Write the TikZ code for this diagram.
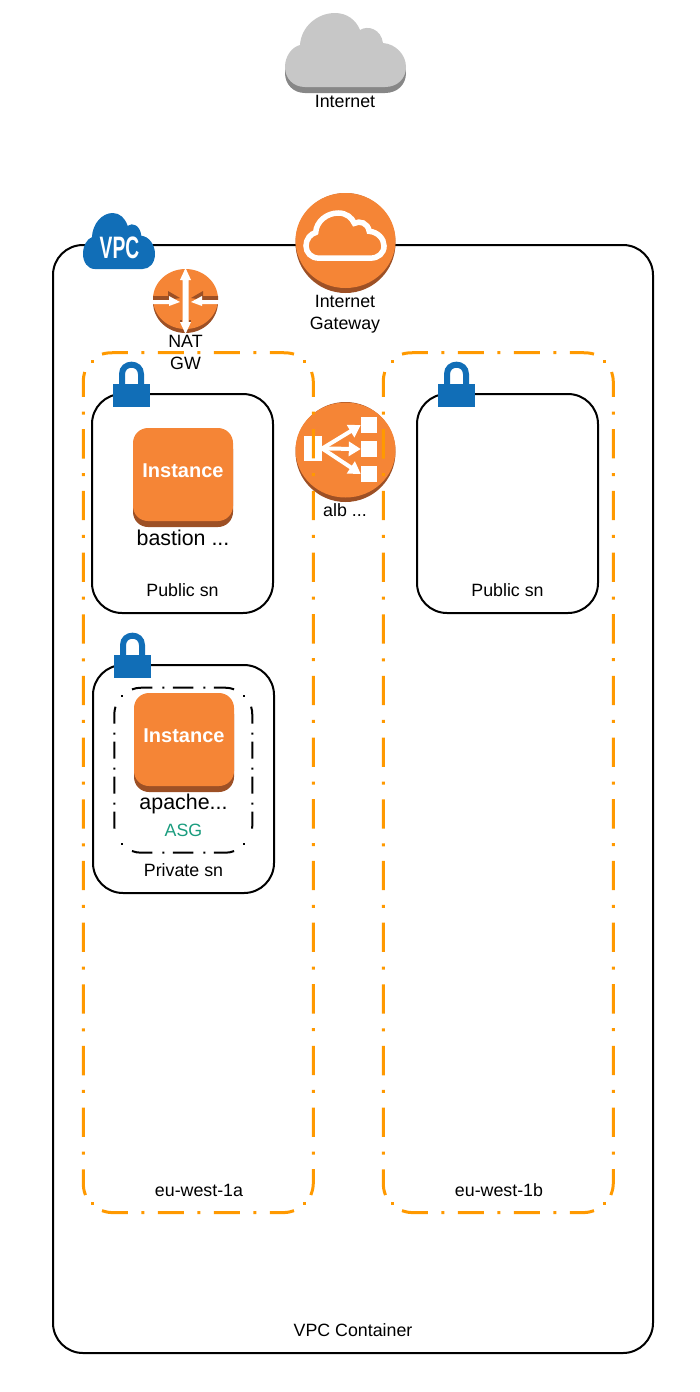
\documentclass[tikz,border=0pt]{standalone}
\usepackage{fontspec}
\setmainfont{Liberation Sans}
\usepackage{tikz}
\usetikzlibrary{arrows.meta}
\definecolor{awsOrange}{HTML}{F58536}
\definecolor{awsBrown}{HTML}{9D5025}
\definecolor{awsBlue}{HTML}{116EB7}
\definecolor{azOrange}{HTML}{FF9900}
\definecolor{asgGreen}{HTML}{1A9C7E}
\tikzstyle{container} = [rectangle, draw, line width=2pt, inner sep=0pt, rounded corners=30pt]
\tikzstyle{azhoriz} = [draw=azOrange, line width=3pt, dash pattern=on 26pt off 13.5pt on 3pt off 13.5pt]
\tikzstyle{azvert} = [draw=azOrange, line width=3pt, dash pattern=on 29.3pt off 14.7pt on 3pt off 14.67pt, dash phase=4.3pt]
\tikzstyle{asghoriz} = [draw, line width=2pt, dash pattern=on 20.5pt off 10pt on 2pt off 8.5pt]
\tikzstyle{asgvert} = [draw, line width=2pt, dash pattern=on 17pt off 9pt on 2pt off 7pt]
\tikzstyle{instancetop} = [rectangle, fill=awsOrange, text=white, inner sep=0pt, rounded corners=15pt, minimum width=100pt, minimum height=93pt, font=\fontsize{20}{20}\selectfont\bfseries]
\tikzstyle{instancebase} = [rectangle, fill=awsBrown, inner sep=0pt, rounded corners=15pt, minimum width=100pt, minimum height=93pt]
\tikzstyle{label} = [inner sep=0pt, font=\fontsize{17.8}{22}\selectfont, align=center]
\tikzstyle{biglabel} = [inner sep=0pt, font=\fontsize{21.4}{22}\selectfont]
\tikzstyle{whitebox} = [rectangle, fill=white, inner sep=0pt, minimum width=16pt, minimum height=16pt]
\tikzstyle{albarrow} = [draw=white, line width=4pt, -{Triangle[length=12pt,width=14pt]}]
\tikzset{
    cloudshape/.pic={
        \path[pic actions] (20,74) .. controls (8,74) and (0,65) .. (0,54)
            .. controls (0,43) and (7,34) .. (15,32)
            .. controls (16,14) and (32,0) .. (50,0)
            .. controls (62,0) and (71,7) .. (75,17)
            .. controls (83,12) and (96,16) .. (98,30)
            .. controls (111,31) and (121,42) .. (121,54)
            .. controls (121,66) and (112,74) .. (100,74) -- cycle;
    },
    lockshape/.pic={
        \fill[awsBlue] (0,0) rectangle (37,23);
        \draw[awsBlue, line width=6pt] (9,1) -- (9,-9.8) .. controls (9,-22.5) and (28,-22.5) .. (28,-9.8) -- (28,1);
    },
    zoneframe/.pic={
        \draw[azhoriz] (19,2.1) .. controls (23,1) and (26.5,.7) .. (30,.7) -- (200,.7) .. controls (203.5,.7) and (207,1) .. (211,2.1);
        \draw[azhoriz] (19,858.6) .. controls (23,860) and (26.5,860.7) .. (30,860.7) -- (200,860.7) .. controls (203.5,860.7) and (207,860) .. (211,858.6);
        \draw[azvert] (1.7,20) .. controls (.8,23) and (.3,26) .. (.3,30) -- (.3,831) .. controls (.3,835) and (.8,839) .. (2.5,843);
        \draw[azvert] (228.6,20) .. controls (229.5,23) and (230.3,26) .. (230.3,30) -- (230.3,831) .. controls (230.3,835) and (229.5,839) .. (227.8,843);
        \fill[azOrange] (7.5,7.5) rectangle (10.5,10.5);
        \fill[azOrange] (219.5,7.5) rectangle (222.5,10.5);
        \fill[azOrange] (7.5,850) rectangle (10.5,853);
        \fill[azOrange] (219.5,850) rectangle (222.5,853);
    },
    asgframe/.pic={
        \draw[asghoriz] (17.7,1.7) .. controls (20.5,.5) and (24,0) .. (27,0) -- (111,0) .. controls (114,0) and (117,.5) .. (120,1.7);
        \draw[asghoriz] (17.7,163.3) .. controls (20.5,164.5) and (24,165) .. (27,165) -- (111,165) .. controls (114,165) and (117,164.5) .. (120,163.3);
        \draw[asgvert] (1.2,19) .. controls (.4,21.5) and (0,24) .. (0,27) -- (0,138) .. controls (0,140.5) and (.4,143) .. (.9,145);
        \draw[asgvert] (136.8,19) .. controls (137.6,21.5) and (138,24) .. (138,27) -- (138,138) .. controls (138,140.5) and (137.6,143) .. (137.1,145);
        \fill (7,7) rectangle (9,9);
        \fill (129,7) rectangle (131,9);
        \fill (7,155) rectangle (9,157);
        \fill (129,155) rectangle (131,157);
    }
}
\begin{document}
\begin{tikzpicture}[x=1pt, y=-1pt]
        \useasboundingbox (0, 0) rectangle (699, 1392);

        % internet cloud
        \pic[fill=black!47] at (285, 19) {cloudshape};
        \pic[fill=black!22] at (285, 13) {cloudshape};
        \node[label] at (345, 101) (Internet) {Internet};

        % vpc
        \node[container, minimum width=600pt, minimum height=1108pt] at (353, 799) (VpcContainer) {};
        \node[label] at (353, 1330) (VpcLabel) {VPC Container};
        \pic[fill=awsBlue, xscale=0.595, yscale=0.757] at (83, 213) {cloudshape};
        \node[inner sep=0pt, text=white, xscale=0.62, transform shape, font=\fontsize{31}{31}\selectfont\bfseries] at (119.5, 248) (VpcText) {VPC};

        % gateway
        \fill[awsBrown] (345.5, 243) circle (50pt);
        \fill[awsOrange] (345.5, 240.5) ellipse (50pt and 47.5pt);
        \pic[draw=white, line width=5.5pt, xscale=0.645, yscale=0.61] at (306, 213) {cloudshape};
        \node[label] at (345, 314.5) (GatewayLabel) {Internet\\Gateway};

        % nat
        \fill[awsBrown] (185.5, 302) ellipse (32.5pt and 31pt);
        \fill[awsOrange] (185.5, 299) ellipse (32.5pt and 30pt);
        \fill[awsBrown] (153, 296) -- (168, 296) -- (168, 291) -- (180, 298) -- (168, 300) -- (153, 300) -- cycle;
        \fill[awsBrown] (218, 296) -- (203, 296) -- (203, 291) -- (191, 298) -- (203, 300) -- (218, 300) -- cycle;
        \fill[white] (153, 300) -- (169, 300) -- (169, 296) -- (180, 302) -- (169, 306) -- (169, 304) -- (153, 304) -- cycle;
        \fill[white] (218, 300) -- (202, 300) -- (202, 296) -- (191, 302) -- (202, 306) -- (202, 304) -- (218, 304) -- cycle;
        \fill[awsBrown] (180, 320) rectangle (182, 322);
        \fill[awsBrown] (189, 320) rectangle (191, 322);
        \fill[white] (185.5, 268) -- (191, 280) -- (188.5, 280) -- (188.5, 322) -- (191, 322) -- (185.5, 334) -- (180, 322) -- (182.5, 322) -- (182.5, 280) -- (180, 280) -- cycle;
        \node[label] at (185.5, 352) (NatLabel) {NAT\\GW};

        % alb sits under the zone lines
        \fill[awsBrown] (345.5, 452) circle (50pt);
        \fill[awsOrange] (345.5, 450) ellipse (50pt and 47.5pt);
        \node[whitebox, minimum width=18pt, minimum height=25pt] at (313, 448.5) (AlbSource) {};
        \node[whitebox] at (369, 425) (AlbTargetA) {};
        \node[whitebox] at (369, 449) (AlbTargetB) {};
        \node[whitebox] at (369, 474) (AlbTargetC) {};
        \draw[albarrow] (AlbSource.east) -- (AlbTargetA.west);
        \draw[albarrow] (AlbSource.east) -- (AlbTargetB.west);
        \draw[albarrow] (AlbSource.east) -- (AlbTargetC.west);
        \node[label] at (345, 510) (AlbLabel) {alb ...};

        % zones
        \pic at (83, 352) {zoneframe};
        \pic at (383, 352) {zoneframe};
        \node[label] at (199, 1190) (ZoneALabel) {eu-west-1a};
        \node[label] at (499, 1190) (ZoneBLabel) {eu-west-1b};

        % public subnets
        \node[container, minimum width=181pt, minimum height=219pt] at (182.5, 503.5) (PublicA) {};
        \node[container, minimum width=181pt, minimum height=219pt] at (507.5, 503.5) (PublicB) {};
        \node[label] at (182.5, 590) (PublicALabel) {Public sn};
        \node[label] at (507.5, 590) (PublicBLabel) {Public sn};
        \pic at (113, 384) {lockshape};
        \pic at (438, 384) {lockshape};

        % bastion
        \node[instancebase] at (183, 480.5) (BastionBase) {};
        \node[instancetop] at (183, 474.5) (Bastion) {};
        \node[inner sep=0pt, text=white, font=\fontsize{20}{20}\selectfont\bfseries] at (183, 470.5) (BastionText) {Instance};
        \node[biglabel] at (183, 538) (BastionLabel) {bastion ...};

        % private subnet
        \node[container, minimum width=181pt, minimum height=228pt] at (183.5, 779) (PrivateA) {};
        \node[label] at (183.5, 870) (PrivateALabel) {Private sn};
        \pic at (114, 655) {lockshape};

        % asg and apache
        \pic at (114.3, 687.7) {asgframe};
        \node[instancebase] at (184, 745.5) (ApacheBase) {};
        \node[instancetop] at (184, 739.5) (Apache) {};
        \node[inner sep=0pt, text=white, font=\fontsize{20}{20}\selectfont\bfseries] at (184, 735.5) (ApacheText) {Instance};
        \node[biglabel] at (183.5, 804) (ApacheLabel) {apache...};
        \node[label, text=asgGreen] at (183.5, 830) (AsgLabel) {ASG};
    \end{tikzpicture}
\end{document}
